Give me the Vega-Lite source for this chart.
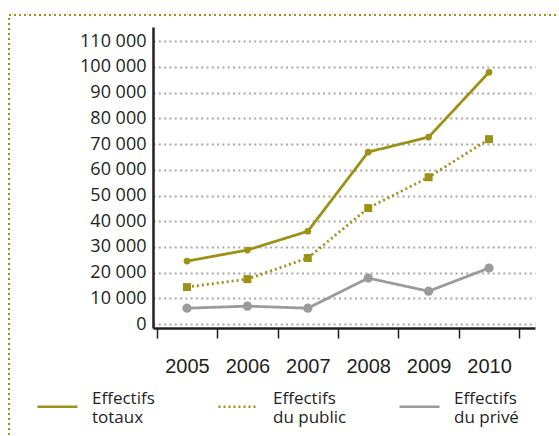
{
  "$schema": "https://vega.github.io/schema/vega-lite/v6.json",
  "width": 560,
  "height": 430,
  "padding": {"left": 9, "top": 15, "right": 0, "bottom": 0},
  "background": "white",
  "config": {
    "view": {"stroke": "#9E9118", "strokeWidth": 2, "strokeDash": [2, 3]},
    "axis": {"labelColor": "#231f20", "domainColor": "#231f20", "tickColor": "#231f20", "title": null}
  },
  "data": {
    "values": [
      {"year": "2005", "serie": "Effectifs totaux", "value": 24500},
      {"year": "2006", "serie": "Effectifs totaux", "value": 28800},
      {"year": "2007", "serie": "Effectifs totaux", "value": 36100},
      {"year": "2008", "serie": "Effectifs totaux", "value": 66900},
      {"year": "2009", "serie": "Effectifs totaux", "value": 72700},
      {"year": "2010", "serie": "Effectifs totaux", "value": 97900},
      {"year": "2005", "serie": "Effectifs du public", "value": 14400},
      {"year": "2006", "serie": "Effectifs du public", "value": 17500},
      {"year": "2007", "serie": "Effectifs du public", "value": 25700},
      {"year": "2008", "serie": "Effectifs du public", "value": 45100},
      {"year": "2009", "serie": "Effectifs du public", "value": 57100},
      {"year": "2010", "serie": "Effectifs du public", "value": 71900},
      {"year": "2005", "serie": "Effectifs du privé", "value": 6200},
      {"year": "2006", "serie": "Effectifs du privé", "value": 7000},
      {"year": "2007", "serie": "Effectifs du privé", "value": 6200},
      {"year": "2008", "serie": "Effectifs du privé", "value": 17900},
      {"year": "2009", "serie": "Effectifs du privé", "value": 12800},
      {"year": "2010", "serie": "Effectifs du privé", "value": 21800}
    ]
  },
  "encoding": {
    "x": {
      "field": "year", "type": "ordinal", "sort": null,
      "scale": {"type": "band", "range": [144, 526], "paddingInner": 0, "paddingOuter": 0.162, "align": 0.194},
      "axis": {
        "orient": "bottom", "offset": -117, "labelAngle": 0,
        "tickBand": "extent", "tickSize": 10, "tickWidth": 1.5,
        "domainWidth": 2.5, "labelFont": "Liberation Sans", "labelFontSize": 20,
        "labelPadding": 18, "grid": false
      }
    },
    "y": {
      "field": "value", "type": "quantitative",
      "scale": {"domain": [-1500, 115500], "range": [313, 12], "nice": false, "zero": false},
      "axis": {
        "orient": "left", "offset": -144,
        "values": [0, 10000, 20000, 30000, 40000, 50000, 60000, 70000, 80000, 90000, 100000, 110000],
        "labelExpr": "replace(format(datum.value, ','), ',', ' ')",
        "ticks": false, "domainWidth": 2.5, "labelFont": "Open Sans", "labelFontSize": 18,
        "labelPadding": 7, "grid": true, "gridColor": "#a8a8a8", "gridDash": [2, 3.3], "gridWidth": 2
      }
    }
  },
  "layer": [
    {
      "mark": {"type": "line", "strokeWidth": 2.8},
      "encoding": {
        "color": {
          "field": "serie", "type": "nominal",
          "scale": {"domain": ["Effectifs totaux", "Effectifs du public", "Effectifs du privé"], "range": ["#9E9118", "#9E9118", "#9B9B9E"]},
          "legend": {
            "orient": "none", "legendX": 27, "legendY": 370, "direction": "horizontal", "columns": 3,
            "title": null, "symbolType": "stroke", "symbolSize": 1600, "symbolStrokeWidth": 2.5,
            "labelFont": "Open Sans", "labelFontSize": 17, "labelColor": "#231f20", "labelOffset": 13,
            "columnPadding": 47, "gridAlign": "all", "labelLimit": 200, "padding": 0,
            "labelExpr": "[slice(datum.label, 0, 9), slice(datum.label, 10)]",
            "encode": {"labels": {"update": {"dy": {"value": -8}, "lineHeight": {"value": 19}}}}
          }
        },
        "strokeDash": {
          "field": "serie", "type": "nominal",
          "scale": {"domain": ["Effectifs totaux", "Effectifs du public", "Effectifs du privé"], "range": [[1, 0], [2, 3], [1, 0]]},
          "legend": {
            "orient": "none", "legendX": 27, "legendY": 370, "direction": "horizontal", "columns": 3,
            "title": null, "symbolType": "stroke", "symbolSize": 1600, "symbolStrokeWidth": 2.5,
            "labelFont": "Open Sans", "labelFontSize": 17, "labelColor": "#231f20", "labelOffset": 13,
            "columnPadding": 47, "gridAlign": "all", "labelLimit": 200, "padding": 0,
            "labelExpr": "[slice(datum.label, 0, 9), slice(datum.label, 10)]",
            "encode": {"labels": {"update": {"dy": {"value": -8}, "lineHeight": {"value": 19}}}}
          }
        }
      }
    },
    {
      "transform": [{"filter": "datum.serie === 'Effectifs totaux'"}],
      "mark": {"type": "point", "filled": true, "opacity": 1, "shape": "circle", "size": 45, "color": "#9E9118"},
      "encoding": {}
    },
    {
      "transform": [{"filter": "datum.serie === 'Effectifs du public'"}],
      "mark": {"type": "point", "filled": true, "opacity": 1, "shape": "square", "size": 64, "color": "#9E9118"},
      "encoding": {}
    },
    {
      "transform": [{"filter": "datum.serie === 'Effectifs du privé'"}],
      "mark": {"type": "point", "filled": true, "opacity": 1, "shape": "circle", "size": 85, "color": "#9B9B9E"},
      "encoding": {}
    }
  ]
}
